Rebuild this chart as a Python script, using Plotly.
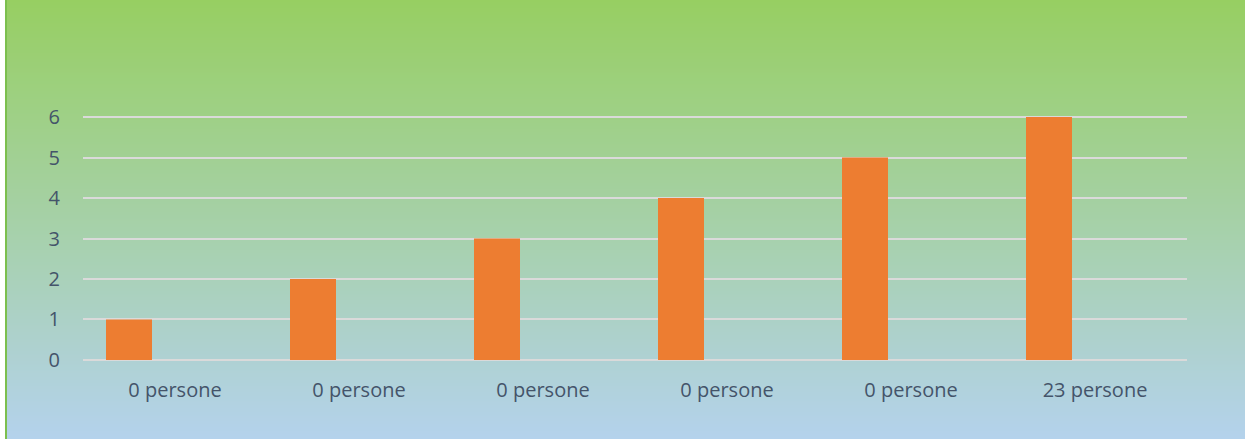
import base64, struct, zlib
import plotly.graph_objects as go

# ---- data ----
categories = ["0 persone", "0 persone", "0 persone", "0 persone", "0 persone", "23 persone"]
series1 = [1, 2, 3, 4, 5, 6]
series2 = [0, 0, 0, 0, 0, 0]
series3 = [0, 0, 0, 0, 0, 0]
y_ticks = [0, 1, 2, 3, 4, 5, 6]

W, H = 1245, 439
PAD = 0.05  # range padding (units) so edge gridlines are drawn
L, R, T, B = 83, 58, 115, 77
PW, PH = W - L - R, H - T - B

# ---- vertical gradient background as PNG ----
top = (151, 207, 98)
bot = (180, 210, 236)
rows = b""
for i in range(H):
    t = i / (H - 1)
    c = bytes(int(round(top[k] + (bot[k] - top[k]) * t)) for k in range(3))
    rows += b"\x00" + c
def chunk(tag, data):
    return struct.pack(">I", len(data)) + tag + data + struct.pack(">I", zlib.crc32(tag + data) & 0xffffffff)
png = b"\x89PNG\r\n\x1a\n" + chunk(b"IHDR", struct.pack(">IIBBBBB", 1, H, 8, 2, 0, 0, 0)) \
      + chunk(b"IDAT", zlib.compress(rows)) + chunk(b"IEND", b"")
src = "data:image/png;base64," + base64.b64encode(png).decode()

x = list(range(len(categories)))
fig = go.Figure()
fig.add_bar(x=x, y=series1, marker_color="#ED7D31", marker_line_width=0, showlegend=False)
fig.add_bar(x=x, y=series2, marker_color="#A5A5A5", marker_line_width=0, showlegend=False)
fig.add_bar(x=x, y=series3, marker_color="#FFC000", marker_line_width=0, showlegend=False)

bx0 = 7
fig.add_layout_image(dict(source=src, xref="paper", yref="paper",
                          x=(bx0 - L) / PW, y=1 + T / PH, sizex=(W - bx0) / PW, sizey=H / PH,
                          xanchor="left", yanchor="top", sizing="stretch", layer="below"))
fig.add_shape(type="line", xref="paper", yref="paper",
              x0=(6 - L) / PW, x1=(6 - L) / PW, y0=-B / PH, y1=1 + T / PH,
              line=dict(color="#7CBF4E", width=2), layer="below")

font = dict(family="Open Sans, Liberation Sans, sans-serif", size=20, color="#44546A")
fig.update_layout(
    width=W, height=H,
    margin=dict(l=L, r=R, t=T, b=B),
    paper_bgcolor="white", plot_bgcolor="rgba(0,0,0,0)",
    barmode="group", bargap=0.25, bargroupgap=0,
    font=font,
    xaxis=dict(tickmode="array", tickvals=x, ticktext=categories, range=[-0.5, 5.5],
               showgrid=False, zeroline=False, showline=False, ticks="",
               ticklabelstandoff=14, tickfont=font, fixedrange=True),
    yaxis=dict(tickmode="array", tickvals=y_ticks, range=[-PAD, 6 + PAD], showgrid=True,
               gridcolor="#DADADA", gridwidth=1.5, zeroline=False, showline=False,
               ticks="", ticklabelstandoff=22, tickfont=font, fixedrange=True),
)
fig.write_html("out.html", config={"displayModeBar": False},
               post_script="document.body.style.margin='0';")
